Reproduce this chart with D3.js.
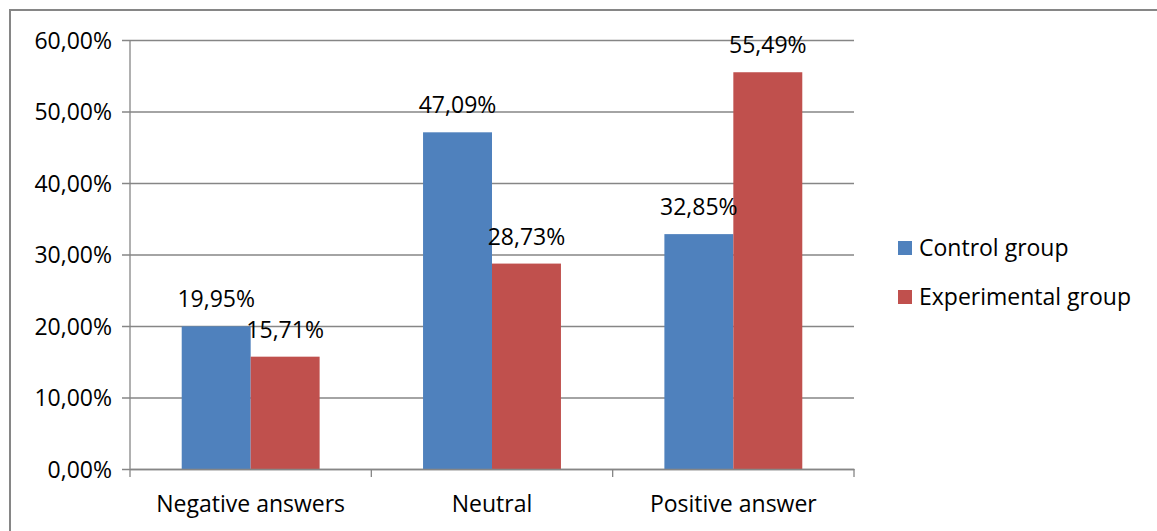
<!DOCTYPE html>
<html>
<head>
<meta charset="utf-8">
<script src="https://cdn.jsdelivr.net/npm/d3@7"></script>
<style>
  html, body { margin: 0; padding: 0; background: #fff; }
  svg { display: block; font-family: "Open Sans", sans-serif; }
</style>
</head>
<body>
<svg id="chart" width="1157" height="531"></svg>
<script>
// Survey answers, share of each group
const categories = ["Negative answers", "Neutral", "Positive answer"];
const seriesNames = ["Control group", "Experimental group"];
const controlValues = [0.1995, 0.4709, 0.3285];
const experimentalValues = [0.1571, 0.2873, 0.5549];
const yTicks = [0, 0.1, 0.2, 0.3, 0.4, 0.5, 0.6];
const colors = ["#4F81BD", "#C0504D"];

const seriesValues = [controlValues, experimentalValues];
const rows = categories.map((c, i) => ({
  category: c,
  values: seriesNames.map((s, k) => ({ series: s, k, value: seriesValues[k][i] }))
}));

const svg = d3.select("#chart");
const grey = "#868686";
const fontSize = 23;
const fmt = v => d3.format(".2f")(v * 100).replace(".", ",") + "%";

// Outer frame
svg.append("rect")
  .attr("x", 10).attr("y", 10)
  .attr("width", 1157).attr("height", 540)
  .attr("fill", "none").attr("stroke", grey).attr("stroke-width", 2);

const plot = { left: 130, right: 854, top: 40, bottom: 469 };

const x0 = d3.scaleBand().domain(categories).range([plot.left, plot.right]).paddingInner(0).paddingOuter(0);
// 150% gap between clusters: two bars take 2/(2+1.5) of a band
const x1 = d3.scaleBand().domain(seriesNames)
  .range([0, x0.bandwidth()]).paddingOuter(0.75).paddingInner(0);
const y = d3.scaleLinear().domain([0, 0.6]).range([plot.bottom, plot.top]);

// Gridlines with left ticks
const yAxis = d3.axisLeft(y).tickValues(yTicks).tickSize(-(plot.right - plot.left)).tickFormat(fmt).tickPadding(18);
const gy = svg.append("g").attr("transform", `translate(${plot.left},0)`).call(yAxis);
gy.select(".domain").remove();
gy.selectAll(".tick line").attr("stroke", grey).attr("stroke-width", 1.3).attr("x1", -8);
gy.selectAll(".tick text").attr("font-size", fontSize).attr("fill", "#000")
  .attr("font-family", "Open Sans, sans-serif").attr("dy", "0.35em");

// Y axis line
svg.append("line")
  .attr("x1", plot.left).attr("x2", plot.left)
  .attr("y1", plot.top).attr("y2", plot.bottom)
  .attr("stroke", grey).attr("stroke-width", 1.3);

// Bars
const groups = svg.append("g").selectAll("g").data(rows).join("g")
  .attr("transform", d => `translate(${x0(d.category)},0)`);

groups.selectAll("rect").data(d => d.values).join("rect")
  .attr("x", d => x1(d.series))
  .attr("width", x1.bandwidth())
  .attr("y", d => y(d.value))
  .attr("height", d => y(0) - y(d.value))
  .attr("fill", d => colors[d.k]);

// Value labels
groups.selectAll("text").data(d => d.values).join("text")
  .attr("x", d => x1(d.series) + x1.bandwidth() / 2)
  .attr("y", d => y(d.value) - 19)
  .attr("text-anchor", "middle")
  .attr("font-size", fontSize)
  .attr("fill", "#000")
  .text(d => fmt(d.value));

// X axis
const xAxis = d3.axisBottom(x0).tickSize(0).tickPadding(27);
const gx = svg.append("g").attr("transform", `translate(0,${plot.bottom})`).call(xAxis);
gx.select(".domain").attr("stroke", grey).attr("stroke-width", 1.3);
gx.selectAll(".tick text").attr("font-size", fontSize).attr("fill", "#000")
  .attr("font-family", "Open Sans, sans-serif");

// Category separators
const bounds = [...categories.map(c => x0(c)), plot.right];
svg.append("g").selectAll("line").data(bounds).join("line")
  .attr("x1", d => d).attr("x2", d => d)
  .attr("y1", plot.bottom).attr("y2", plot.bottom + 8)
  .attr("stroke", grey).attr("stroke-width", 1.3);

// Legend
const legend = svg.append("g").selectAll("g").data(seriesNames).join("g")
  .attr("transform", (d, i) => `translate(898,${248 + i * 49})`);
legend.append("rect")
  .attr("x", 0).attr("y", -7).attr("width", 14).attr("height", 14)
  .attr("fill", (d, i) => colors[i]);
legend.append("text")
  .attr("x", 21).attr("dy", "0.35em")
  .attr("font-size", fontSize).attr("fill", "#000")
  .text(d => d);
</script>
</body>
</html>
